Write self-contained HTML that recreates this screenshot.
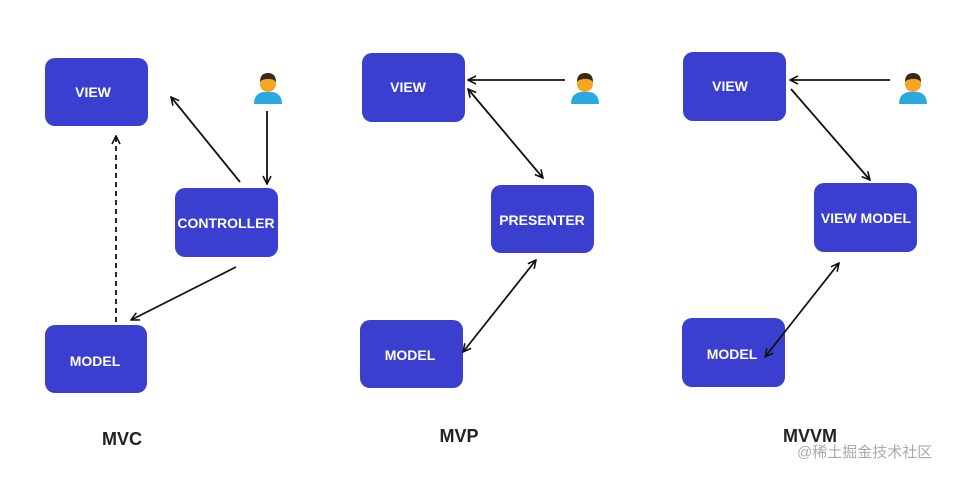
<!DOCTYPE html>
<html><head><meta charset="utf-8"><style>
body{margin:0;background:#fff;width:974px;height:478px;overflow:hidden}
</style></head><body>
<svg width="974" height="478" xmlns="http://www.w3.org/2000/svg" font-family="Liberation Sans, sans-serif">
<defs>
<marker id="a" markerWidth="10" markerHeight="10" refX="9" refY="5" orient="auto-start-reverse" markerUnits="userSpaceOnUse"><path d="M1,1 L9,5 L1,9" fill="none" stroke="#111" stroke-width="1.6"/></marker>
<g id="p"><circle cx="0" cy="-8" r="8" fill="#f5a623"/><path d="M-8,-10 Q-8,-19 0,-19 Q8,-19 8,-10 Q4,-15 -6,-12 Z" fill="#3a2a1a"/><path d="M-14,12 Q-14,2 -5,0 L5,0 Q14,2 14,12 Z" fill="#29a9e0"/></g>
</defs>
<g fill="#3a3fd0">
<rect x="45" y="58" width="103" height="68" rx="10"/><rect x="175" y="188" width="103" height="69" rx="10"/><rect x="45" y="325" width="102" height="68" rx="10"/>
<rect x="362" y="53" width="103" height="69" rx="10"/><rect x="491" y="185" width="103" height="68" rx="10"/><rect x="360" y="320" width="103" height="68" rx="10"/>
<rect x="683" y="52" width="103" height="69" rx="10"/><rect x="814" y="183" width="103" height="69" rx="10"/><rect x="682" y="318" width="103" height="69" rx="10"/>
</g>
<g fill="#fff" font-size="14" font-weight="bold" text-anchor="middle" textLength="0">
<text x="93" y="97">VIEW</text><text x="226" y="228">CONTROLLER</text><text x="95" y="366">MODEL</text>
<text x="408" y="92">VIEW</text><text x="542" y="225">PRESENTER</text><text x="410" y="360">MODEL</text>
<text x="730" y="91">VIEW</text><text x="866" y="223">VIEW MODEL</text><text x="732" y="359">MODEL</text>
</g>
<use href="#p" x="268" y="92"/><use href="#p" x="585" y="92"/><use href="#p" x="913" y="92"/>
<g stroke="#111" stroke-width="1.8" fill="none">
<line x1="267" y1="111" x2="267" y2="184" marker-end="url(#a)"/>
<line x1="240" y1="182" x2="171" y2="97" marker-end="url(#a)"/>
<line x1="236" y1="267" x2="131" y2="320" marker-end="url(#a)"/>
<line x1="116" y1="322" x2="116" y2="136" stroke-dasharray="5,4" marker-end="url(#a)"/>
<line x1="565" y1="80" x2="468" y2="80" marker-end="url(#a)"/>
<line x1="468" y1="89" x2="543" y2="178" marker-start="url(#a)" marker-end="url(#a)"/>
<line x1="536" y1="260" x2="463" y2="352" marker-start="url(#a)" marker-end="url(#a)"/>
<line x1="890" y1="80" x2="790" y2="80" marker-end="url(#a)"/>
<line x1="791" y1="89" x2="870" y2="180" marker-end="url(#a)"/>
<line x1="839" y1="263" x2="765" y2="357" marker-start="url(#a)" marker-end="url(#a)"/>
</g>
<g font-size="18" font-weight="bold" fill="#222" text-anchor="middle">
<text x="122" y="445">MVC</text><text x="459" y="442">MVP</text><text x="810" y="442">MVVM</text>
</g>
<text x="797" y="457" font-size="15" fill="#aaa" font-family="Liberation Sans, Noto Sans CJK SC, sans-serif">@稀土掘金技术社区</text>
</svg>
</body></html>
